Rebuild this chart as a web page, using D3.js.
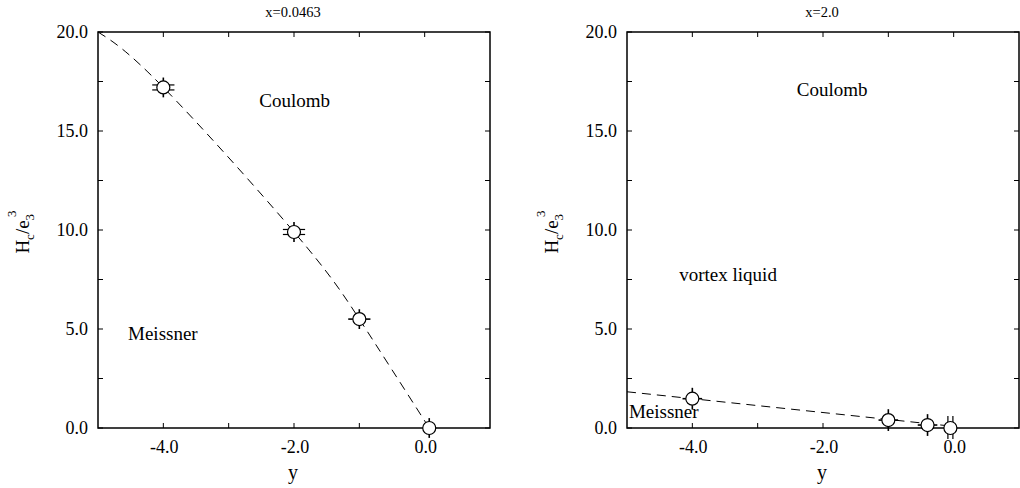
<!DOCTYPE html>
<html><head><meta charset="utf-8">
<script src="https://cdn.jsdelivr.net/npm/d3@7"></script>
<style>body{margin:0;background:#fff}svg{display:block}text{font-family:"Liberation Serif","Times New Roman",serif;fill:#000}</style>
</head><body><svg id="c" width="1020" height="488"></svg>
<script>
// ---- data ----
const xDomain = [-5, 1];
const hDomain = [0, 20];
const xTicksMajor = [-4, -2, 0];
const xTicksAll = [-4, -3, -2, -1, 0];
const hTicksMajor = [0, 5, 10, 15, 20];
const hTicksAll = [0, 2.5, 5, 7.5, 10, 12.5, 15, 17.5, 20];

const leftTitle = "x=0.0463";
const leftY = [-4, -2, -1, 0.07];
const leftH = [17.2, 9.9, 5.5, 0.0];
const leftErrH = [0.5, 0.5, 0.5, 0.5];
const leftErrY = [0.17, 0.17, 0.17, 0.1];
const leftDoubleX = [true, true, false, false];
const leftFitY = [-5, -4, -2, -1, 0.07];
const leftFitH = [20, 17.2, 9.9, 5.5, 0.0];
const leftLabels = ["Coulomb", "Meissner"];
const leftLabelY = [-2.53, -4.54];
const leftLabelH = [16.2, 4.44];

const rightTitle = "x=2.0";
const rightY = [-4, -1, -0.4, -0.05];
const rightH = [1.48, 0.40, 0.15, 0.0];
const rightErrH = [0.55, 0.55, 0.55, 0.55];
const rightErrY = [0.15, 0.15, 0.15, 0.1];
const rightDoubleV = [false, false, false, true];
const rightFitY = [-5, -0.05];
const rightFitH = [1.83, 0.1];
const rightLabels = ["Coulomb", "vortex liquid", "Meissner"];
const rightLabelY = [-2.4, -4.2, -4.97];
const rightLabelH = [16.75, 7.4, 0.5];

const svg = d3.select("#c");
const fmt = d3.formatLocale({decimal: ".", thousands: ",", grouping: [3], currency: ["", ""], minus: "-"}).format(".1f");

function panel(o) {
  const x = d3.scaleLinear().domain(xDomain).range([o.left, o.right]);
  const y = d3.scaleLinear().domain(hDomain).range([428, 32]);
  const g = svg.append("g");
  g.append("rect").attr("x", o.left).attr("y", 32).attr("width", o.right - o.left).attr("height", 396)
    .attr("fill", "none").attr("stroke", "#000").attr("stroke-width", 1.5);
  const tl = 5;
  xTicksAll.forEach(t => {
    g.append("line").attr("x1", x(t)).attr("x2", x(t)).attr("y1", 428).attr("y2", 428 - tl).attr("stroke", "#000").attr("stroke-width", 1);
    g.append("line").attr("x1", x(t)).attr("x2", x(t)).attr("y1", 32).attr("y2", 32 + tl).attr("stroke", "#000").attr("stroke-width", 1);
  });
  hTicksAll.forEach(t => {
    g.append("line").attr("x1", o.left).attr("x2", o.left + tl).attr("y1", y(t)).attr("y2", y(t)).attr("stroke", "#000").attr("stroke-width", 1);
    g.append("line").attr("x1", o.right).attr("x2", o.right - tl).attr("y1", y(t)).attr("y2", y(t)).attr("stroke", "#000").attr("stroke-width", 1);
  });
  xTicksMajor.forEach(t => {
    g.append("text").attr("x", x(t) + 1).attr("y", 453).attr("text-anchor", "middle").attr("font-size", 18).text(fmt(t));
  });
  hTicksMajor.forEach(t => {
    g.append("text").attr("x", o.left - 10).attr("y", y(t) + 6).attr("text-anchor", "end").attr("font-size", 18).text(fmt(t));
  });
  g.append("text").attr("x", (o.left + o.right) / 2 - 1).attr("y", 17).attr("text-anchor", "middle").attr("font-size", 14.5).text(o.title);
  g.append("text").attr("x", (o.left + o.right) / 2 - 1).attr("y", 479).attr("text-anchor", "middle").attr("font-size", 20).text("y");
  const yl = g.append("text").attr("transform", `translate(${o.yLabX},232) rotate(-90)`).attr("text-anchor", "middle").attr("font-size", 19);
  yl.append("tspan").text("H");
  yl.append("tspan").attr("dy", 5).attr("font-size", 13).text("c");
  yl.append("tspan").attr("dy", -5).text("/e");
  yl.append("tspan").attr("dy", 5).attr("font-size", 13).text("3");
  yl.append("tspan").attr("dy", -18).attr("dx", -3).attr("font-size", 13).text("3");
  const fit = o.fitY.map((v, i) => [v, o.fitH[i]]);
  g.append("path").datum(fit)
    .attr("d", d3.line().x(d => x(d[0])).y(d => y(d[1])).curve(d3.curveNatural))
    .attr("fill", "none").attr("stroke", "#000").attr("stroke-width", 1).attr("stroke-dasharray", "9,6");
  o.py.forEach((v, i) => {
    const cx = x(v), cy = y(o.ph[i]);
    const eh = Math.abs(y(o.ph[i] + o.errH[i]) - cy);
    const ex = Math.abs(x(v + o.errY[i]) - cx);
    const sw = 1.6;
    if (o.dblV && o.dblV[i]) {
      [-2.5, 2.5].forEach(d => g.append("line").attr("x1", cx + d).attr("x2", cx + d).attr("y1", cy - eh - 1).attr("y2", cy + eh).attr("stroke", "#000").attr("stroke-width", 1.2));
    } else {
      g.append("line").attr("x1", cx).attr("x2", cx).attr("y1", cy - eh).attr("y2", cy + eh).attr("stroke", "#000").attr("stroke-width", sw);
    }
    if (o.dblX && o.dblX[i]) {
      [-2.5, 2.5].forEach(d => g.append("line").attr("x1", cx - ex).attr("x2", cx + ex).attr("y1", cy + d).attr("y2", cy + d).attr("stroke", "#000").attr("stroke-width", 1.2));
    } else {
      g.append("line").attr("x1", cx - ex).attr("x2", cx + ex).attr("y1", cy).attr("y2", cy).attr("stroke", "#000").attr("stroke-width", sw);
    }
    g.append("circle").attr("cx", cx).attr("cy", cy).attr("r", 6.5).attr("fill", "#fff").attr("stroke", "#000").attr("stroke-width", 1.2);
  });
  o.labels.forEach((t, i) => {
    g.append("text").attr("x", x(o.labY[i])).attr("y", y(o.labH[i])).attr("font-size", 19).text(t);
  });
}

panel({left: 98, right: 490, title: leftTitle, yLabX: 29,
  py: leftY, ph: leftH, errH: leftErrH, errY: leftErrY, dblX: leftDoubleX,
  fitY: leftFitY, fitH: leftFitH, labels: leftLabels, labY: leftLabelY, labH: leftLabelH});
panel({left: 627, right: 1019, title: rightTitle, yLabX: 558,
  py: rightY, ph: rightH, errH: rightErrH, errY: rightErrY, dblV: rightDoubleV,
  fitY: rightFitY, fitH: rightFitH, labels: rightLabels, labY: rightLabelY, labH: rightLabelH});
</script></body></html>
